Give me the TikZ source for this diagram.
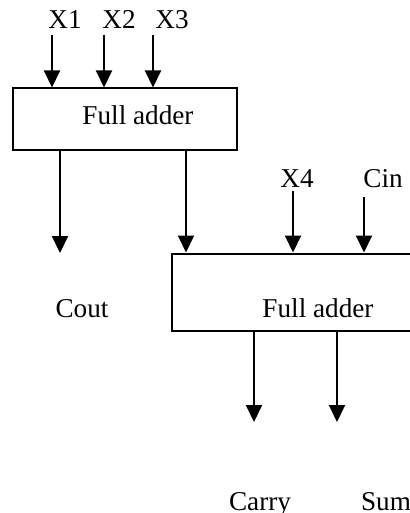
\documentclass[tikz,border=0pt]{standalone}
\usepackage{fontspec}
\setmainfont{Liberation Serif}
\usetikzlibrary{arrows.meta}
\begin{document}
\begin{tikzpicture}[x=0.5pt, y=-0.5pt, font=\fontsize{13.6}{16}\selectfont, line width=1pt, >={Triangle[width=8pt,length=8.5pt]}]
            \useasboundingbox (0,0) rectangle (410,513);
            \clip (0,0) rectangle (410,513);
            \tikzset{box/.style={draw, inner sep=0pt}}
            \node[box, minimum width=112pt, minimum height=31pt] (fa1) at (125,119.5) {};
            \node[box, minimum width=130pt, minimum height=38.5pt] (fa2) at (302,292) {};
            \path
            (52,35) coordinate (x1)
            (104,35) coordinate (x2)
            (153,35) coordinate (x3)
            (293,191) coordinate (x4)
            (364,197) coordinate (cin)
            (60,253) coordinate (cout)
            (186,0) coordinate (link)
            (254,422) coordinate (carry)
            (337,422) coordinate (sum);
            \node[anchor=base] (t1) at (138,125) {Full adder};
            \node[anchor=base] (t2) at (318,317) {Full adder};
            \foreach \p/\x/\y/\t in {x1/65/29/X1, x2/119/29/X2, x3/172/29/X3, x4/297/188/X4, cin/383/188/Cin, cout/82/317/Cout, carry/260/510/Carry, sum/386/510/Sum}
            \node[anchor=base] (l\p) at (\x,\y) {\t};
            \foreach \p in {x1,x2,x3}\draw[->] (\p) -- (\p |- fa1.north);
            \foreach \p in {x4,cin}\draw[->] (\p) -- (\p |- fa2.north);
            \draw[->] (fa1.south -| cout) -- (cout);
            \draw[->] (fa1.south -| link) -- (fa2.north -| link);
            \foreach \p in {carry,sum}\draw[->] (fa2.south -| \p) -- (\p);
    \end{tikzpicture}
\end{document}
